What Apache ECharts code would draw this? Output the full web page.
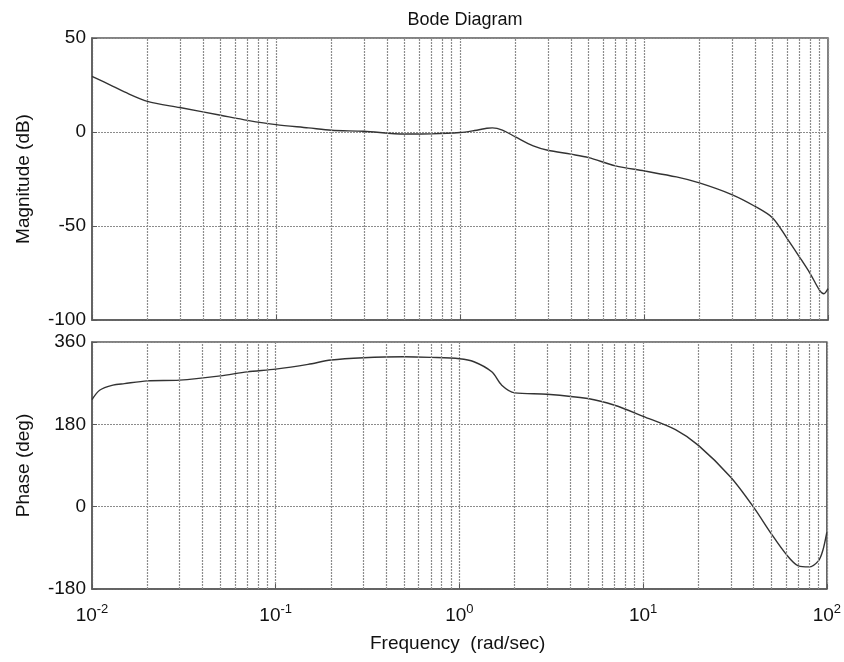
<!DOCTYPE html>
<html>
<head>
<meta charset="utf-8">
<script src="https://cdn.jsdelivr.net/npm/echarts@6/dist/echarts.min.js"></script>
<style>
  html, body { margin: 0; padding: 0; background: #fff; }
  #chart { width: 844px; height: 662px; }
</style>
</head>
<body>
<div id="chart"></div>
<script>
"use strict"

// magnitude curve
const magFreq = [0.01, 0.013, 0.015, 0.02, 0.03, 0.05, 0.07, 0.1, 0.15, 0.2, 0.3, 0.5, 0.7, 1.0, 1.2, 1.4, 1.5, 1.7, 2, 2.5, 3, 4, 5, 7, 10, 15, 20, 30, 40, 50, 60, 70, 80, 90, 95, 100]
const magDb = [29.6, 24.3, 21.3, 16.3, 13, 8.9, 6.2, 3.9, 2.2, 0.9, 0.4, -1.1, -1.0, -0.3, 0.8, 2.0, 2.2, 1.0, -2.6, -7.4, -9.7, -11.8, -13.6, -18, -20.7, -23.9, -27.1, -33.3, -39.5, -45.7, -56.7, -66.5, -75.3, -84.2, -86, -83.3]

// phase curve
const phaseFreq = [0.01, 0.011, 0.013, 0.015, 0.02, 0.03, 0.05, 0.07, 0.1, 0.15, 0.2, 0.3, 0.5, 0.7, 1.0, 1.2, 1.5, 1.7, 2, 3, 5, 7, 10, 15, 20, 30, 40, 50, 60, 70, 80, 90, 95, 100]
const phaseDeg = [234, 254.6, 265.6, 269, 275, 276.6, 286, 294.8, 300.7, 311, 320.5, 325.6, 327.8, 326.4, 323.4, 316.8, 294.8, 265.6, 248.8, 245.9, 236.4, 221.7, 197.6, 168.4, 134, 64.4, -1.5, -60, -103.8, -129.5, -131.7, -118.5, -96.5, -56]

// minor vertical grid lines (2..9 of each decade)
const decades = [0.01, 0.1, 1, 10]
const minorSteps = [2, 3, 4, 5, 6, 7, 8, 9]
const minorGrid = []
decades.forEach((d) => minorSteps.forEach((m) => minorGrid.push(+(d * m).toPrecision(3))))

const magTicks = { min: -100, max: 50, interval: 50 }
const phaseTicks = { min: -180, max: 360, interval: 180 }

const font = "Liberation Sans, Arial, sans-serif"
const textColor = "#111"
const gridStyle = { color: "#8c8c8c", type: [2, 1], width: 1.2 }
const boxColor = "#5a5a5a"

const pair = (xs, ys) => xs.map((x, i) => [x, ys[i]])

const minorLines = {
  silent: true,
  symbol: ["none", "none"],
  label: { show: false },
  lineStyle: gridStyle,
  emphasis: { disabled: true },
  animation: false,
  data: minorGrid.map((v) => ({ xAxis: v })),
}

const xBase = (idx, showLabels) => ({
  type: "log",
  logBase: 10,
  min: 0.01,
  max: 100,
  gridIndex: idx,
  axisLine: { show: true, onZero: false, lineStyle: { color: boxColor, width: 1.5 } },
  axisTick: { show: true, inside: true, length: 5, lineStyle: { color: boxColor } },
  splitLine: { show: true, lineStyle: gridStyle },
  axisLabel: {
    show: showLabels,
    margin: 14,
    formatter: (v) => "{b|10}{s|" + Math.round(Math.log10(v)) + "}",
    rich: {
      b: { fontSize: 19, fontFamily: font, color: textColor },
      s: { fontSize: 13, fontFamily: font, color: textColor, padding: [0, 0, 13, 0] },
    },
  },
})

const yBase = (idx, ticks, name, gap) => ({
  type: "value",
  gridIndex: idx,
  min: ticks.min,
  max: ticks.max,
  interval: ticks.interval,
  name: name,
  nameLocation: "middle",
  nameGap: gap,
  nameTextStyle: { fontSize: 19, fontFamily: font, color: textColor },
  axisLine: { show: true, lineStyle: { color: boxColor, width: 1.5 } },
  axisTick: { show: true, inside: true, length: 5, lineStyle: { color: boxColor } },
  splitLine: { show: true, lineStyle: gridStyle },
  axisLabel: { fontSize: 19, fontFamily: font, color: textColor, margin: 6 },
})

const option = {
  animation: false,
  backgroundColor: "#fff",
  title: {
    text: "Bode Diagram",
    left: 460,
    top: 6,
    textAlign: "center",
    textStyle: { fontSize: 18, fontWeight: "normal", fontFamily: font, color: textColor },
  },
  grid: [
    { left: 92, right: 16, top: 38, height: 282, show: true, borderColor: boxColor, borderWidth: 1.5 },
    { left: 92, right: 16, top: 342, height: 247, show: true, borderColor: boxColor, borderWidth: 1.5 },
  ],
  graphic: [
    {
      type: "text",
      left: 370,
      top: 634,
      style: { text: "Frequency  (rad/sec)", fontSize: 19, fontFamily: font, fill: textColor },
    },
  ],
  xAxis: [xBase(0, false), xBase(1, true)],
  yAxis: [
    yBase(0, magTicks, "Magnitude (dB)", 59),
    yBase(1, phaseTicks, "Phase (deg)", 59),
  ],
  series: [
    {
      type: "line",
      xAxisIndex: 0,
      yAxisIndex: 0,
      data: pair(magFreq, magDb),
      smooth: 0.3,
      showSymbol: false,
      lineStyle: { color: "#333", width: 1.4 },
      markLine: minorLines,
    },
    {
      type: "line",
      xAxisIndex: 1,
      yAxisIndex: 1,
      data: pair(phaseFreq, phaseDeg),
      smooth: 0.3,
      showSymbol: false,
      lineStyle: { color: "#333", width: 1.4 },
      markLine: minorLines,
    },
  ],
}

const chart = echarts.init(document.getElementById("chart"), null, { renderer: "canvas" })
chart.setOption(option)
</script>
</body>
</html>
